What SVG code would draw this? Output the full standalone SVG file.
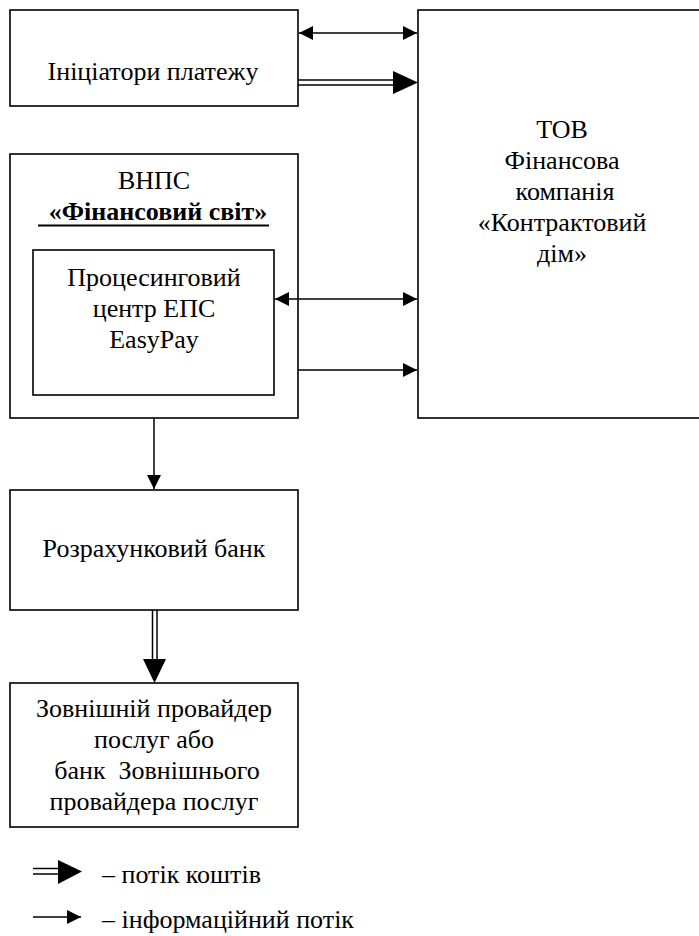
<svg xmlns="http://www.w3.org/2000/svg" width="699" height="936" viewBox="0 0 699 936">
<style>
.box{fill:#fff;stroke:#000;stroke-width:1.6}
text{font-family:'Liberation Serif','Times New Roman',Tinos,'DejaVu Serif',serif;font-size:26px;fill:#000}
.t{text-anchor:middle}
.b{font-weight:bold}
.ln{stroke:#000;stroke-width:1.5;fill:none}
.dl{stroke:#000;stroke-width:1.5;fill:none}
</style>
<defs>
<marker id="ah" markerUnits="userSpaceOnUse" viewBox="0 0 14 14" refX="14" refY="7" markerWidth="14" markerHeight="14" orient="auto-start-reverse">
<path d="M0,0 L14,7 L0,14 z" fill="#000"/>
</marker>
</defs>
<rect width="699" height="936" fill="#fff"/>
<g id="initiators">
<rect class="box" x="10" y="10" width="288" height="96"/>
<text class="t" x="153" y="80">Ініціатори платежу</text>
</g>
<g id="tov">
<rect class="box" x="418" y="10" width="300" height="408"/>
<text class="t" x="562" y="138">ТОВ</text>
<text class="t" x="562" y="169">Фінансова</text>
<text class="t" x="565" y="200">компанія</text>
<text class="t" x="562" y="231">«Контрактовий</text>
<text class="t" x="562" y="262">дім»</text>
</g>
<g id="vnps">
<rect class="box" x="10" y="154" width="288" height="264"/>
<text class="t" x="154" y="189">ВНПС</text>
<text class="t b" x="158" y="220">«Фінансовий світ»</text>
<line x1="38" y1="225.5" x2="269" y2="225.5" stroke="#000" stroke-width="1.8"/>
</g>
<g id="processing">
<rect class="box" x="33" y="250" width="241" height="145"/>
<text class="t" x="154" y="286">Процесинговий</text>
<text class="t" x="154" y="317">центр ЕПС</text>
<text class="t" x="154" y="348">EasyPay</text>
</g>
<g id="bank">
<rect class="box" x="10" y="490" width="288" height="120"/>
<text class="t" x="154" y="557">Розрахунковий банк</text>
</g>
<g id="provider">
<rect class="box" x="10" y="683" width="288" height="144"/>
<text class="t" x="154" y="717">Зовнішній провайдер</text>
<text class="t" x="154" y="748">послуг або</text>
<text class="t" x="157" y="779" style="white-space:pre">банк  Зовнішнього</text>
<text class="t" x="154" y="810">провайдера послуг</text>
</g>
<g id="connectors">
<line class="ln" x1="299" y1="33" x2="417" y2="33" marker-start="url(#ah)" marker-end="url(#ah)"/>
<line class="dl" x1="298" y1="80" x2="396" y2="80"/>
<line class="dl" x1="298" y1="85" x2="396" y2="85"/>
<polygon points="393,71 418,82.5 393,94" fill="#000"/>
<line class="ln" x1="275" y1="299" x2="417" y2="299" marker-start="url(#ah)" marker-end="url(#ah)"/>
<line class="ln" x1="298" y1="370" x2="417" y2="370" marker-end="url(#ah)"/>
<line class="ln" x1="154" y1="418" x2="154" y2="489" marker-end="url(#ah)"/>
<line class="dl" x1="152.5" y1="610" x2="152.5" y2="662"/>
<line class="dl" x1="157" y1="610" x2="157" y2="662"/>
<polygon points="143,659 166,659 154.5,683" fill="#000"/>
</g>
<g id="legend">
<line class="dl" x1="33" y1="868.5" x2="60" y2="868.5"/>
<line class="dl" x1="33" y1="874" x2="60" y2="874"/>
<polygon points="58,860 82,871.5 58,884" fill="#000"/>
<text x="102" y="883">– потік коштів</text>
<line class="ln" x1="33" y1="917" x2="81" y2="917" marker-end="url(#ah)"/>
<text x="102" y="928">– інформаційний потік</text>
</g>
</svg>
